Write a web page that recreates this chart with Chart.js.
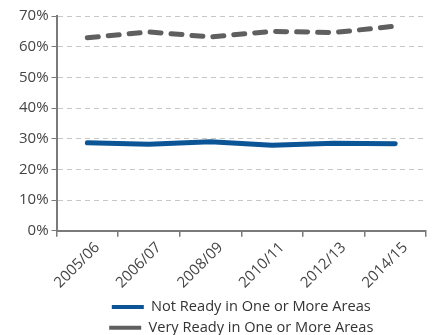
<!DOCTYPE html>
<html>
<head>
<meta charset="utf-8">
<script src="https://cdn.jsdelivr.net/npm/chart.js@4/dist/chart.umd.min.js"></script>
<style>
  html, body { margin: 0; padding: 0; background: #fff; }
  #wrap { width: 432px; height: 335px; }
</style>
</head>
<body>
<div id="wrap"><canvas id="c" width="432" height="335"></canvas></div>
<script>
// School years shown on the horizontal axis
const years = ['2005/06', '2006/07', '2008/09', '2010/11', '2012/13', '2014/15'];

// Share of children (%) in each readiness group
const notReady = [28.7, 28.2, 29.0, 27.9, 28.5, 28.4];
const veryReady = [62.9, 64.8, 63.2, 65.0, 64.6, 66.7];

const yTicks = [0, 10, 20, 30, 40, 50, 60, 70];

const axisGray = '#7a7a7a';
const fontFamily = '"Open Sans", Roboto, sans-serif';
const tickFont = { family: fontFamily, size: 15 };

new Chart(document.getElementById('c'), {
  type: 'line',
  data: {
    labels: years,
    datasets: [
      {
        label: 'Not Ready in One or More Areas',
        data: notReady,
        borderColor: '#0b5596',
        backgroundColor: '#0b5596',
        borderWidth: 5,
        borderCapStyle: 'round',
        borderJoinStyle: 'round',
        pointRadius: 0,
        tension: 0
      },
      {
        label: 'Very Ready in One or More Areas',
        data: veryReady,
        borderColor: '#5f5f5f',
        backgroundColor: '#5f5f5f',
        borderWidth: 5,
        borderDash: [11, 10],
        borderCapStyle: 'round',
        borderJoinStyle: 'round',
        pointRadius: 0,
        tension: 0
      }
    ]
  },
  options: {
    responsive: false,
    animation: false,
    devicePixelRatio: 1,
    layout: { padding: { top: 16, right: 6, left: 16, bottom: -10 } },
    plugins: {
      tooltip: { enabled: false },
      legend: {
        position: 'bottom',
        fullSize: false,
        align: 'center',
        labels: {
          usePointStyle: true,
          pointStyle: 'line',
          pointStyleWidth: 32,
          boxHeight: 15,
          padding: 6,
          color: '#333',
          font: { family: fontFamily, size: 14.6 },
          generateLabels(chart) {
            const items = Chart.defaults.plugins.legend.labels.generateLabels(chart);
            items.forEach(it => {
              it.lineWidth = 4;
              it.lineCap = 'butt';
              if (it.lineDash && it.lineDash.length) it.lineDash = [8, 3];
            });
            return items;
          }
        }
      }
    },
    scales: {
      x: {
        offset: true,
        grid: {
          offset: true,
          drawOnChartArea: false,
          drawTicks: true,
          tickLength: 6,
          color: axisGray,
          lineWidth: 1.5
        },
        border: { color: axisGray, width: 2 },
        ticks: {
          color: '#444',
          font: tickFont,
          maxRotation: 45,
          minRotation: 45,
          labelOffset: 10,
          padding: 2
        }
      },
      y: {
        min: 0,
        max: 70,
        afterBuildTicks: (scale) => {
          scale.ticks = yTicks.map(v => ({ value: v }));
        },
        grid: {
          color: '#c8c8c8',
          lineWidth: 1,
          tickLength: 5,
          tickColor: axisGray,
          tickBorderDash: []
        },
        border: { color: axisGray, width: 2, dash: [5, 4] },
        ticks: {
          color: '#444',
          font: tickFont,
          padding: 3,
          callback: (v) => v + '%'
        }
      }
    }
  }
});
</script>
</body>
</html>
